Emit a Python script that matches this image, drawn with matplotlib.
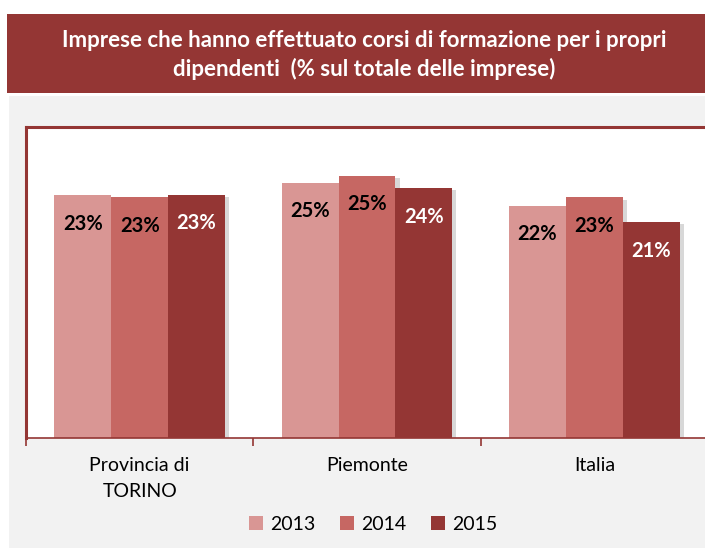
"""Bar chart: imprese che hanno effettuato corsi di formazione."""

import matplotlib.pyplot as plt
import matplotlib.patheffects as pe
from matplotlib.patches import Rectangle
import numpy as np

plt.rcParams["font.family"] = ["Lato", "DejaVu Sans"]

categories = ["Provincia di\nTORINO", "Piemonte", "Italia"]
years = ["2013", "2014", "2015"]
values_2013 = [23.4, 24.6, 22.4]
values_2014 = [23.2, 25.3, 23.2]
values_2015 = [23.45, 24.1, 20.8]

colors = ["#D99694", "#C66763", "#943634"]
label_colors = ["black", "black", "white"]
dark = "#943634"

fig = plt.figure(figsize=(7.05, 5.48), dpi=100)
fig.patch.set_facecolor("white")

# grey chart area and title band
fig.patches.append(Rectangle((9 / 705, 0), 1, 452 / 548, transform=fig.transFigure,
                             facecolor="#F2F2F2", edgecolor="none", zorder=-2))
fig.patches.append(Rectangle((7 / 705, 1 - 93 / 548), 1, 79 / 548, transform=fig.transFigure,
                             facecolor=dark, edgecolor="none", zorder=-2))
fig.text(364 / 705, 1 - 55 / 548,
         "Imprese che hanno effettuato corsi di formazione per i propri\n"
         "dipendenti  (% sul totale delle imprese)",
         ha="center", va="center", color="white", fontsize=16,
         fontweight="bold", linespacing=1.4)

ax = fig.add_axes([26 / 705, 1 - 438 / 548, 682 / 705, 311 / 548])
ax.set_facecolor("white")

x = np.arange(len(categories))
width = 0.25
series = [values_2013, values_2014, values_2015]
shadow = [pe.SimplePatchShadow(offset=(3, -1.5), shadow_rgbFace="#7f7f7f", alpha=0.3),
          pe.Normal()]
for i, (vals, year) in enumerate(zip(series, years)):
    pos = x + (i - 1) * width
    bars = ax.bar(pos, vals, width, color=colors[i], label=year, zorder=2)
    for b, v in zip(bars, vals):
        b.set_path_effects(shadow)
        ax.annotate(f"{round(v)}%", (b.get_x() + b.get_width() / 2, v),
                    xytext=(0, -20.5), textcoords="offset points",
                    ha="center", va="center", fontsize=14.5, fontweight="bold",
                    color=label_colors[i], zorder=3)

ax.set_xlim(-0.5, 2.5)
ax.set_ylim(0, 30)
ax.set_yticks([])
ax.set_xticks(x)
ax.set_xticklabels(categories, fontsize=14, linespacing=1.6)
ax.set_xticks([-0.5, 0.5, 1.5, 2.5], minor=True)
ax.tick_params(axis="x", which="major", length=0, pad=14)
ax.tick_params(axis="x", which="minor", length=6, color=dark, width=1.2)

for side in ["left", "top"]:
    ax.spines[side].set_color(dark)
    ax.spines[side].set_linewidth(2.2)
ax.spines["bottom"].set_color(dark)
ax.spines["bottom"].set_linewidth(1.2)
ax.spines["right"].set_visible(False)

leg = fig.legend(loc="center", bbox_to_anchor=(373 / 705, 1 - 524 / 548), ncol=3,
                 frameon=False, fontsize=14, handlelength=0.75, handleheight=0.75,
                 handletextpad=0.35, columnspacing=1.25)
for h in leg.legend_handles:
    h.set_path_effects([])

fig.savefig("out.png", dpi=100)
